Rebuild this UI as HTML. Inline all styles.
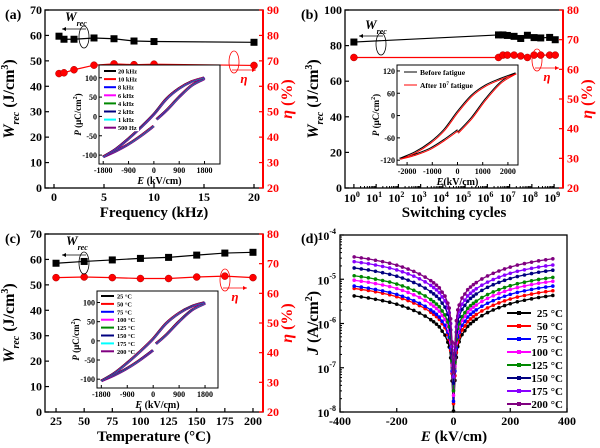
<!DOCTYPE html>
<html><head><meta charset="utf-8"><style>
html,body{margin:0;padding:0;background:#fff;width:600px;height:448px;overflow:hidden}
svg{font-family:"Liberation Serif",serif;font-weight:bold}
</style></head><body>
<svg id="fig" width="600" height="448" viewBox="0 0 600 448" xmlns="http://www.w3.org/2000/svg"></svg>
<script>
// ---------- DATA ----------
const freqKHz = [0.5, 1, 2, 4, 6, 8, 10, 20];
const freqWrec = [59.7, 58.5, 58.5, 59, 58.7, 57.8, 57.6, 57.3];
const freqEta = [65, 65.3, 66.5, 68.3, 68.8, 68.5, 68.7, 68.2];
const cycLog = [0, 6.5, 6.7, 6.9, 7.2, 7.5, 7.8, 8.1, 8.4, 8.8, 9.05];
const cycWrec = [82, 86, 86, 85.7, 85.2, 84, 85.8, 84.5, 84.3, 84.6, 83.3];
const cycEta = [64, 64, 64.8, 64.8, 64.8, 64.5, 64, 64.8, 64.8, 64.8, 64.8];
const tempC = [25, 50, 75, 100, 125, 150, 175, 200];
const tempWrec = [58.5, 59.2, 59.8, 60.4, 60.8, 61.7, 62.5, 62.8];
const tempEta = [65.3, 65.5, 65.3, 65, 65, 65.5, 65.8, 65.3];
// J-E
const jTemps = ["25 °C","50 °C","75 °C","100 °C","125 °C","150 °C","175 °C","200 °C"];
const jNegEnd = [4.2e-6, 6.2e-6, 7e-6, 9.5e-6, 1.2e-5, 1.8e-5, 2.5e-5, 3.2e-5];
const jPosEnd = [4.3e-6, 5.5e-6, 7e-6, 9e-6, 1.1e-5, 1.6e-5, 2.1e-5, 2.9e-5];
const jAbsE = [0, 5, 10, 15, 20, 30, 40, 50, 60, 70, 80, 100, 120, 140, 160, 180, 200, 225, 250, 275, 300, 325, 350];
const jShape = [0.0025, 0.012, 0.04, 0.07, 0.09, 0.13, 0.16, 0.2, 0.23, 0.26, 0.29, 0.35, 0.41, 0.47, 0.53, 0.59, 0.65, 0.72, 0.78, 0.84, 0.9, 0.95, 1];
// P-E loops
const loopE = [-1800, -1350, -900, -450, 0, 450, 900, 1350, 1800];
const loopUpA = [-105, -85, -58, -28, 5, 45, 72, 90, 100];
const loopLowRE = [100, 450, 900, 1350, 1800];
const loopLowRA = [-8, 15, 50, 80, 97];
const loopLowLE = [0, -450, -900, -1350, -1800];
const loopLowLA = [-25, -50, -72, -90, -105];
const loopEB = [-2300, -1700, -1100, -550, 0, 550, 1100, 1700, 2300];
const loopUpB = [-115, -98, -72, -38, 12, 55, 82, 100, 115];
const loopLowREB = [0, 550, 1100, 1700, 2300];
const loopLowRB = [-45, -5, 45, 90, 115];
const loopLowLEB = [0, -550, -1100, -1700, -2300];
const loopLowLB = [-38, -65, -88, -104, -115];
const freqLabels = ["20 kHz","10 kHz","8 kHz","6 kHz","4 kHz","2 kHz","1 kHz","500 Hz"];
const tempLabels = ["25 °C","50 °C","75 °C","100 °C","125 °C","150 °C","175 °C","200 °C"];
const loopColors = ["#000","#f00","#00f","#f0f","#080","#000080","#0ff","#800080"];
const jColors = ["#000","#f00","#00f","#f0f","#080","#000080","#80f","#800080"];

// ---------- HELPERS ----------
const NS = "http://www.w3.org/2000/svg";
const svg = document.getElementById('fig');
function mk(tag, attrs, parent, name) {
  const e = document.createElementNS(NS, tag);
  for (const k in attrs) e.setAttribute(k, attrs[k]);
  
  
  (parent || svg).appendChild(e);
  return e;
}
function txt(x, y, s, size, parent, name, opts) {
  opts = opts || {};
  const t = mk('text', {x: x, y: y, 'font-size': size, 'text-anchor': opts.anchor || 'middle', fill: opts.fill || '#000'}, parent, name);
  if (opts.rot) t.setAttribute('transform', 'rotate(' + opts.rot + ' ' + x + ' ' + y + ')');
  if (opts.italic) t.setAttribute('font-style', 'italic');
  t.textContent = s;
  return t;
}
function lin(d0, d1, r0, r1) { return v => r0 + (v - d0) / (d1 - d0) * (r1 - r0); }
function smooth(pts) {
  let d = 'M' + pts[0][0] + ',' + pts[0][1];
  for (let i = 0; i < pts.length - 1; i++) {
    const p0 = pts[i - 1] || pts[i], p1 = pts[i], p2 = pts[i + 1], p3 = pts[i + 2] || p2;
    d += ' C' + (p1[0] + (p2[0] - p0[0]) / 6) + ',' + (p1[1] + (p2[1] - p0[1]) / 6) + ' ' + (p2[0] - (p3[0] - p1[0]) / 6) + ',' + (p2[1] - (p3[1] - p1[1]) / 6) + ' ' + p2[0] + ',' + p2[1];
  }
  return d;
}
function box(b, g, name) {
  mk('rect', {x: b.x0, y: b.y0, width: b.x1 - b.x0, height: b.y1 - b.y0, fill: 'none', stroke: '#000', 'stroke-width': 1.3}, g, name);
}
function yTicksLeft(b, ys, vals, g) {
  vals.forEach(v => {
    const y = ys(v);
    mk('line', {x1: b.x0, x2: b.x0 + 4, y1: y, y2: y, stroke: '#000', 'stroke-width': 1.2}, g, 'y-tick');
    txt(b.x0 - 3, y + 4, v, 12, g, 'y-tick-label', {anchor: 'end'});
  });
}
function yTicksRight(b, ys, vals, g) {
  mk('line', {x1: b.x1, x2: b.x1, y1: b.y0, y2: b.y1, stroke: '#f00', 'stroke-width': 2}, g, 'right-axis-line');
  vals.forEach(v => {
    const y = ys(v);
    mk('line', {x1: b.x1, x2: b.x1 - 4, y1: y, y2: y, stroke: '#f00', 'stroke-width': 1.2}, g, 'right-y-tick');
    txt(b.x1 + 4, y + 4, v, 12, g, 'right-y-tick-label', {anchor: 'start', fill: '#f00'});
  });
}
function xTicks(b, xs, vals, g, labels) {
  vals.forEach((v, i) => {
    const x = xs(v);
    mk('line', {x1: x, x2: x, y1: b.y1, y2: b.y1 - 4, stroke: '#000', 'stroke-width': 1.2}, g, 'x-tick');
    if (labels !== false) txt(x, b.y1 + 13, labels ? labels[i] : v, 12, g, 'x-tick-label');
  });
}
function series(xv, yv, xs, ys, color, marker, g, name) {
  const pts = xv.map((v, i) => [xs(v), ys(yv[i])]);
  mk('polyline', {points: pts.map(p => p.join(',')).join(' '), fill: 'none', stroke: color, 'stroke-width': 1.2}, g, name + '-line');
  pts.forEach(p => {
    if (marker === 'sq') mk('rect', {x: p[0] - 3.5, y: p[1] - 3.5, width: 7, height: 7, fill: color}, g, name + '-point');
    else mk('circle', {cx: p[0], cy: p[1], r: 3.5, fill: color, stroke: '#a00', 'stroke-width': 0.5}, g, name + '-point');
  });
}
function leftTitle(x, y, g) {
  const t = mk('text', {x: x, y: y, 'font-size': 16, 'text-anchor': 'middle', transform: 'rotate(-90 ' + x + ' ' + y + ')'}, g, 'y-axis-title');
  t.innerHTML = '<tspan font-style="italic">W</tspan><tspan font-size="10" font-style="italic" dy="5">rec</tspan><tspan dy="-5"> (J/cm</tspan><tspan font-size="10" dy="-6">3</tspan><tspan dy="6">)</tspan>';
}
function rightTitle(x, y, g) {
  const t = mk('text', {x: x, y: y, 'font-size': 16, 'text-anchor': 'middle', fill: '#f00', transform: 'rotate(-90 ' + x + ' ' + y + ')'}, g, 'right-y-axis-title');
  t.innerHTML = '<tspan font-style="italic">η</tspan> (%)';
}
function annot(g, wx, wy, ex, ey, hx, hy) {
  mk('ellipse', {cx: ex, cy: ey, rx: 5, ry: 11, fill: 'none', stroke: '#000', 'stroke-width': 0.8}, g, 'wrec-ellipse');
  mk('line', {x1: ex + 2, y1: ey - 8, x2: ex - 22, y2: ey - 8, stroke: '#000', 'stroke-width': 0.8}, g, 'wrec-arrow');
  mk('path', {d: 'M' + (ex - 22) + ',' + (ey - 8) + ' l4,-2 l0,4z', fill: '#000'}, g, 'wrec-arrowhead');
  const t = mk('text', {x: wx, y: wy, 'font-size': 13, 'font-style': 'italic'}, g, 'wrec-annotation');
  t.innerHTML = 'W<tspan font-size="8" dy="5">rec</tspan>';
  mk('ellipse', {cx: hx, cy: hy, rx: 5, ry: 11, fill: 'none', stroke: '#f00', 'stroke-width': 0.8}, g, 'eta-ellipse');
  mk('line', {x1: hx - 2, y1: hy + 8, x2: hx + 22, y2: hy + 8, stroke: '#f00', 'stroke-width': 0.8}, g, 'eta-arrow');
  mk('path', {d: 'M' + (hx + 22) + ',' + (hy + 8) + ' l-4,-2 l0,4z', fill: '#f00'}, g, 'eta-arrowhead');
  txt(hx + 10, hy + 21, 'η', 13, g, 'eta-annotation', {fill: '#f00', italic: true});
}
function inset(b, xs, ys, xticks, yticks, xlabel, g, loops, name) {
  const ig = mk('g', {}, g, name);
  mk('rect', {x: b.x0, y: b.y0, width: b.x1 - b.x0, height: b.y1 - b.y0, fill: '#fff', stroke: '#000', 'stroke-width': 1}, ig, 'inset-frame');
  loops.forEach(L => {
    L.parts.forEach(p => {
      mk('path', {d: smooth(p[0].map((e, i) => [xs(e) + L.dx, ys(p[1][i]) + L.dy])), fill: 'none', stroke: L.color, 'stroke-width': L.w}, ig, 'hysteresis-loop');
    });
  });
  xticks.forEach(v => {
    const x = xs(v);
    mk('line', {x1: x, x2: x, y1: b.y1, y2: b.y1 - 3, stroke: '#000'}, ig, 'inset-x-tick');
    txt(x, b.y1 + 9, v, 8, ig, 'inset-x-tick-label');
  });
  yticks.forEach(v => {
    const y = ys(v);
    mk('line', {x1: b.x0, x2: b.x0 + 3, y1: y, y2: y, stroke: '#000'}, ig, 'inset-y-tick');
    txt(b.x0 - 2, y + 3, v, 8, ig, 'inset-y-tick-label', {anchor: 'end'});
  });
  const xt = mk('text', {x: (b.x0 + b.x1) / 2, y: b.y1 + 20, 'font-size': 10, 'text-anchor': 'middle'}, ig, 'inset-x-title');
  xt.innerHTML = xlabel;
  const cy = (b.y0 + b.y1) / 2, cx = b.x0 - 18;
  const yt = mk('text', {x: cx, y: cy, 'font-size': 9, 'text-anchor': 'middle', transform: 'rotate(-90 ' + cx + ' ' + cy + ')'}, ig, 'inset-y-title');
  yt.innerHTML = '<tspan font-style="italic">P</tspan> (μC/cm<tspan font-size="6" dy="-4">2</tspan><tspan dy="4">)</tspan>';
  return ig;
}

// ---------- PANEL A ----------
{
  const g = mk('g', {}, svg, 'panel-a');
  const b = {x0: 45, x1: 263, y0: 10, y1: 188};
  const xs = lin(-0.9, 20.9, b.x0, b.x1), ys = lin(0, 70, b.y1, b.y0), yr = lin(20, 90, b.y1, b.y0);
  box(b, g, 'plot-frame');
  yTicksLeft(b, ys, [0,10,20,30,40,50,60,70], g);
  yTicksRight(b, yr, [20,30,40,50,60,70,80,90], g);
  xTicks(b, xs, [0,5,10,15,20], g);
  txt(5, 19, '(a)', 14, g, 'panel-label', {anchor: 'start'});
  leftTitle(14, 99, g); rightTitle(292, 99, g);
  txt(154, 217, 'Frequency (kHz)', 15, g, 'x-axis-title');
  series(freqKHz, freqWrec, xs, ys, '#000', 'sq', g, 'wrec-series');
  series(freqKHz, freqEta, xs, yr, '#f00', 'ci', g, 'eta-series');
  annot(g, 65, 21, 84, 37, 234, 62);
  const ib = {x0: 99, x1: 220, y0: 65, y1: 164};
  const ixs = lin(-1950, 2350, ib.x0, ib.x1), iys = lin(-123, 133, ib.y1, ib.y0);
  const loops = loopColors.map((c, i) => ({color: c, w: 0.9, dx: (i - 4) * 0.2, dy: (i - 4) * 0.2,
    parts: [[loopE, loopUpA], [loopLowRE, loopLowRA], [loopLowLE, loopLowLA]]}));
  const ig = inset(ib, ixs, iys, [-1800,-900,0,900,1800], [-100,-50,0,50,100], '<tspan font-style="italic">E</tspan> (kV/cm)', g, loops, 'inset-a');
  freqLabels.forEach((s, i) => {
    const y = 71 + i * 8.1;
    mk('rect', {x: 103, y: y - 3.5, width: 36, height: 7, fill: '#fff'}, ig, 'inset-legend-bg');
    mk('line', {x1: 104, x2: 116, y1: y, y2: y, stroke: loopColors[i], 'stroke-width': 2}, ig, 'inset-legend-line');
    txt(118, y + 2.5, s, 6.3, ig, 'inset-legend-label', {anchor: 'start'});
  });
}
// ---------- PANEL B ----------
{
  const g = mk('g', {}, svg, 'panel-b');
  const b = {x0: 345, x1: 563, y0: 10, y1: 188};
  const xs = lin(-0.4, 9.4, b.x0, b.x1), ys = lin(0, 100, b.y1, b.y0), yr = lin(20, 80, b.y1, b.y0);
  box(b, g, 'plot-frame');
  yTicksLeft(b, ys, [0,20,40,60,80,100], g);
  yTicksRight(b, yr, [20,30,40,50,60,70,80], g);
  const dec = [0,1,2,3,4,5,6,7,8,9];
  xTicks(b, xs, dec, g, false);
  dec.forEach(d => {
    const t = mk('text', {x: xs(d) - 2, y: b.y1 + 14, 'font-size': 12, 'text-anchor': 'middle'}, g, 'x-tick-label');
    t.innerHTML = '10<tspan font-size="8" dy="-5">' + d + '</tspan>';
    for (let m = 2; m < 10; m++) {
      const lx = xs(d + Math.log10(m));
      if (d < 9) mk('line', {x1: lx, x2: lx, y1: b.y1, y2: b.y1 - 2, stroke: '#000'}, g, 'x-minor-tick');
    }
  });
  txt(301, 19, '(b)', 14, g, 'panel-label', {anchor: 'start'});
  leftTitle(318, 99, g); rightTitle(592, 99, g);
  txt(454, 217, 'Switching cycles', 15, g, 'x-axis-title');
  series(cycLog, cycWrec, xs, ys, '#000', 'sq', g, 'wrec-series');
  series(cycLog, cycEta, xs, yr, '#f00', 'ci', g, 'eta-series');
  annot(g, 365, 29, 381, 44, 537, 60);
  const ib = {x0: 397, x1: 518, y0: 65, y1: 165};
  const ixs = lin(-2400, 2400, ib.x0, ib.x1), iys = lin(-133, 136, ib.y1, ib.y0);
  const loops = [
    {color: '#000', w: 1, dx: 0, dy: 0, parts: [[loopEB, loopUpB], [loopLowREB, loopLowRB], [loopLowLEB, loopLowLB]]},
    {color: '#f00', w: 1, dx: 0.8, dy: 1, parts: [[loopEB, loopUpB], [loopLowREB, loopLowRB], [loopLowLEB, loopLowLB]]}];
  const ig = inset(ib, ixs, iys, [-2000,-1000,0,1000,2000], [-120,-60,0,60,120], '<tspan font-style="italic">E</tspan>(kV/cm)', g, loops, 'inset-b');
  mk('line', {x1: 404, x2: 417, y1: 72, y2: 72, stroke: '#000'}, ig, 'inset-legend-line');
  txt(420, 75, 'Before fatigue', 7.5, ig, 'inset-legend-label', {anchor: 'start'});
  mk('line', {x1: 404, x2: 417, y1: 85, y2: 85, stroke: '#f00'}, ig, 'inset-legend-line');
  const t = mk('text', {x: 420, y: 88, 'font-size': 7.5}, ig, 'inset-legend-label');
  t.innerHTML = 'After 10<tspan font-size="5" dy="-3">7</tspan><tspan dy="3"> fatigue</tspan>';
}
// ---------- PANEL C ----------
{
  const g = mk('g', {}, svg, 'panel-c');
  const b = {x0: 45, x1: 263, y0: 234, y1: 412};
  const xs = lin(15.2, 208.9, b.x0, b.x1), ys = lin(0, 70, b.y1, b.y0), yr = lin(20, 80, b.y1, b.y0);
  box(b, g, 'plot-frame');
  yTicksLeft(b, ys, [0,10,20,30,40,50,60,70], g);
  yTicksRight(b, yr, [20,30,40,50,60,70,80], g);
  xTicks(b, xs, [25,50,75,100,125,150,175,200], g);
  txt(5, 243, '(c)', 14, g, 'panel-label', {anchor: 'start'});
  leftTitle(14, 323, g); rightTitle(292, 323, g);
  txt(154, 441, 'Temperature (°C)', 15, g, 'x-axis-title');
  series(tempC, tempWrec, xs, ys, '#000', 'sq', g, 'wrec-series');
  series(tempC, tempEta, xs, yr, '#f00', 'ci', g, 'eta-series');
  annot(g, 66, 245, 84, 263, 225, 280);
  const ib = {x0: 97, x1: 218, y0: 291, y1: 388};
  const ixs = lin(-1950, 2250, ib.x0, ib.x1), iys = lin(-123, 130, ib.y1, ib.y0);
  const loops = loopColors.map((c, i) => ({color: c, w: 0.9, dx: (i - 4) * 0.2, dy: (i - 4) * 0.2,
    parts: [[loopE, loopUpA], [loopLowRE, loopLowRA], [loopLowLE, loopLowLA]]}));
  const ig = inset(ib, ixs, iys, [-1800,-900,0,900,1800], [-100,-50,0,50,100], '<tspan font-style="italic">E</tspan> (kV/cm)', g, loops, 'inset-c');
  tempLabels.forEach((s, i) => {
    const y = 296 + i * 7.9;
    mk('line', {x1: 101, x2: 114, y1: y, y2: y, stroke: loopColors[i], 'stroke-width': 2}, ig, 'inset-legend-line');
    txt(117, y + 2.5, s, 6.3, ig, 'inset-legend-label', {anchor: 'start'});
  });
}
// ---------- PANEL D ----------
{
  const g = mk('g', {}, svg, 'panel-d');
  const b = {x0: 340, x1: 567, y0: 235, y1: 412};
  const xs = lin(-400, 400, b.x0, b.x1), ys = lin(-8, -4, b.y1, b.y0);
  box(b, g, 'plot-frame');
  xTicks(b, xs, [-400,-200,0,200,400], g);
  [-8,-7,-6,-5,-4].forEach(p => {
    const y = ys(p);
    mk('line', {x1: b.x0, x2: b.x0 + 4, y1: y, y2: y, stroke: '#000', 'stroke-width': 1.2}, g, 'y-tick');
    const t = mk('text', {x: b.x0 - 4, y: y + 5, 'font-size': 12, 'text-anchor': 'end'}, g, 'y-tick-label');
    t.innerHTML = '10<tspan font-size="8" dy="-6">' + p + '</tspan>';
    for (let m = 2; m < 10; m++) if (p < -4) {
      const yy = ys(p + Math.log10(m));
      mk('line', {x1: b.x0, x2: b.x0 + 2, y1: yy, y2: yy, stroke: '#000'}, g, 'y-minor-tick');
    }
  });
  txt(301, 243, '(d)', 14, g, 'panel-label', {anchor: 'start'});
  const yt = mk('text', {x: 318, y: 323, 'font-size': 16, 'text-anchor': 'middle', transform: 'rotate(-90 318 323)'}, g, 'y-axis-title');
  yt.innerHTML = '<tspan font-style="italic">J</tspan> (A/cm<tspan font-size="10" dy="-6">2</tspan><tspan dy="6">)</tspan>';
  const xt = mk('text', {x: 454, y: 441, 'font-size': 15, 'text-anchor': 'middle'}, g, 'x-axis-title');
  xt.innerHTML = '<tspan font-style="italic">E</tspan> (kV/cm)';
  jTemps.forEach((lbl, k) => {
    const pts = [];
    for (let i = jAbsE.length - 1; i >= 0; i--) pts.push([xs(-jAbsE[i]), ys(Math.log10(Math.max(1e-8, jNegEnd[k] * jShape[i])))]);
    for (let i = 1; i < jAbsE.length; i++) pts.push([xs(jAbsE[i]), ys(Math.log10(Math.max(1e-8, jPosEnd[k] * jShape[i])))]);
    mk('polyline', {points: pts.map(p => p.join(',')).join(' '), fill: 'none', stroke: jColors[k], 'stroke-width': 1.3}, g, 'j-curve-' + k);
    pts.forEach(p => mk('circle', {cx: p[0], cy: p[1], r: 1.8, fill: jColors[k]}, g, 'j-point'));
    const y = 313 + k * 13;
    mk('line', {x1: 507, x2: 531, y1: y, y2: y, stroke: jColors[k], 'stroke-width': 2}, g, 'legend-line');
    mk('rect', {x: 517, y: y - 2, width: 4, height: 4, fill: jColors[k]}, g, 'legend-marker');
    txt(563, y + 4, lbl, 11, g, 'legend-label', {anchor: 'end'});
  });
}
</script>
</body></html>
